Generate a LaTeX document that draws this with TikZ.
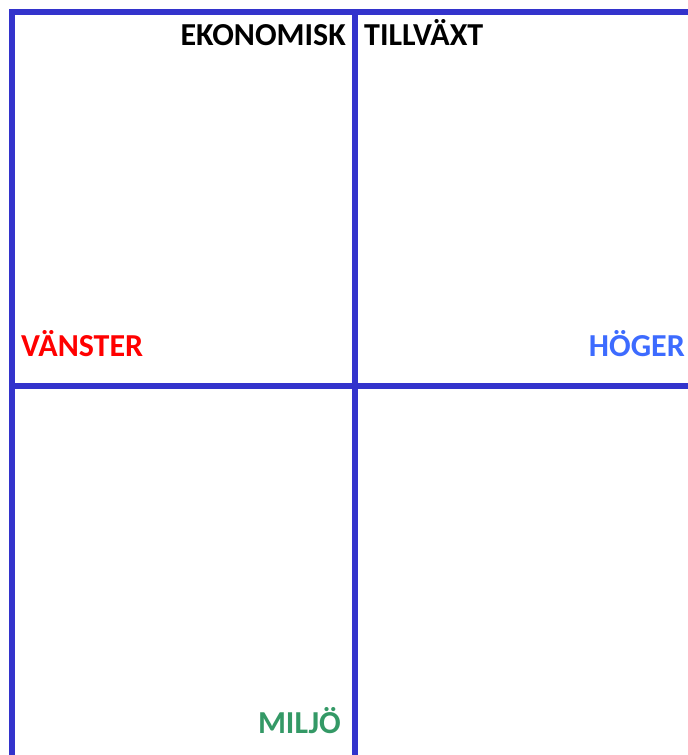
\documentclass[tikz,border=0pt]{standalone}
\usepackage{fontspec}
\setmainfont{Carlito}
\definecolor{gridblue}{RGB}{51,51,204}
\definecolor{vred}{RGB}{255,0,0}
\definecolor{hblue}{RGB}{61,107,255}
\definecolor{mgreen}{RGB}{52,153,102}
\begin{document}
\begin{tikzpicture}[x=1pt,y=-1pt,
  gridline/.style={draw=gridblue,line width=6pt,line join=miter,line cap=butt},
  lbl/.style={inner sep=0pt,font=\fontsize{32}{36}\selectfont\bfseries}]
\useasboundingbox (0,0) rectangle (688,755);
\coordinate (tl) at (12,12);
\coordinate (bl) at (12,758);
\coordinate (tr) at (691,12);
\coordinate (mt) at (355,12);
\coordinate (mb) at (355,758);
\coordinate (ml) at (12,385.7);
\coordinate (mr) at (691,385.7);
\draw[gridline] (bl) -- (tl) -- (tr);
\draw[gridline] (mt) -- (mb);
\draw[gridline] (ml) -- (mr);
\node[lbl,anchor=base east] (eko) at (346,45) {EKONOMISK};
\node[lbl,anchor=base west] (till) at (364,45) {TILLVÄXT};
\node[lbl,anchor=base west,text=vred] (vans) at (21,356) {VÄNSTER};
\node[lbl,anchor=base east,text=hblue] (hog) at (685,356) {HÖGER};
\node[lbl,anchor=base east,text=mgreen] (milj) at (341,733) {MILJÖ};
\end{tikzpicture}
\end{document}
